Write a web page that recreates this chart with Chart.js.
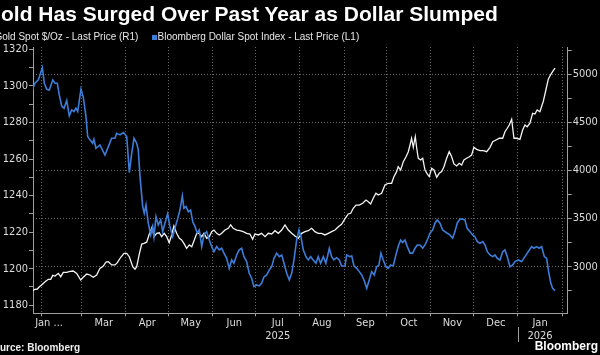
<!DOCTYPE html>
<html><head><meta charset="utf-8">
<script src="https://cdn.jsdelivr.net/npm/chart.js@4.4.1/dist/chart.umd.min.js"></script>
<style>
html,body{margin:0;padding:0;background:#000;}
#wrap{position:relative;width:600px;height:355px;overflow:hidden;background:#000;}
#c{position:absolute;left:0;top:0;}
.t{position:absolute;white-space:nowrap;color:#fff;font-family:"Liberation Sans",Arial,sans-serif;line-height:1;}
#title{left:-15.3px;top:3px;font-weight:bold;font-size:21px;}
.lg{top:32px;font-size:10px;line-height:10px;color:#e6e6e6;}
.sq{position:absolute;top:34.5px;width:5px;height:5px;}
#src{left:-12.8px;top:342.5px;font-size:10px;font-weight:bold;color:#eee;}
#logo{right:2px;top:340px;font-size:12px;font-weight:bold;color:#fff;}
</style></head>
<body>
<div id="wrap">
<canvas id="c" width="600" height="355"></canvas>
<div class="t" id="title">Gold Has Surged Over Past Year as Dollar Slumped</div>
<div class="sq" style="left:-12px;background:#f2f2f2"></div>
<div class="t lg" style="left:-5.5px">Gold Spot $/Oz - Last Price (R1)</div>
<div class="sq" style="left:151.5px;background:#3d7dd8"></div>
<div class="t lg" style="left:157.5px">Bloomberg Dollar Spot Index - Last Price (L1)</div>
<div class="t" id="src">Source: Bloomberg</div>
<div class="t" id="logo">Bloomberg</div>
</div>
<script>
// x values: days since 2025-01-01
const blueDays = [24.4,26.2,28.6,31.4,32.8,34.5,36.3,38.7,40.3,41.9,43.3,45.0,46.6,48.5,50.3,52.0,53.6,55.0,56.2,58.5,60.1,62.0,63.2,64.8,66.7,67.6,69.0,71.8,75.3,77.7,80.0,82.4,83.5,85.9,88.2,90.6,92.4,94.1,95.7,97.6,98.7,99.9,101.8,102.9,104.1,
105.7,107.4,108.8,109.7,111.1,112.7,114.4,115.8,117.4,119.3,120.9,122.8,124.4,126.1,127.9,129.6,130.7,132.2,133.8,135.4,136.9,138.5,140.1,141.5,143.2,144.8,146.7,148.5,150.2,151.8,153.7,155.5,157.2,158.8,160.7,162.5,164.2,165.8,167.7,169.5,171.2,172.8,174.7,176.5,178.2,179.8,181.7,183.6,185.2,186.9,188.8,190.6,192.3,193.9,195.8,197.6,199.3,200.9,202.8,204.6,206.3,207.9,209.8,211.4,212.8,214.4,216.3,217.9,219.6,221.4,223.3,224.9,226.6,228.5,230.3,232.7,234.3,235.9,237.8,239.7,241.3,243.7,244.9,247.2,248.4,250.0,251.9,253.7,255.4,257.0,258.9,260.7,262.4,264.2,265.9,267.5,268.9,270.5,272.4,274.0,275.7,277.5,279.4,281.0,282.7,284.1,285.7,287.4,289.3,291.2,292.8,294.4,296.3,298.2,299.8,301.4,303.3,305.2,306.8,308.4,310.3,312.2,313.8,315.4,317.3,319.2,320.8,322.4,324.3,326.2,327.8,329.4,331.3,333.2,334.8,336.5,338.4,340.3,341.9,343.5,345.4,347.3,348.9,350.5,352.4,354.3,355.9,357.5,359.4,361.3,362.9,365.2,367.6,369.9,372.2,374.6,376.2,378.1,379.9,381.6,383.5,385.1,386.7,388.1,389.3,391.0];
const dollarIndex = [1297.8,1301.5,1303.3,1310,1301.5,1298.2,1297.8,1303.3,1301.5,1301.5,1295,1289,1287.8,1292,1283.6,1286.9,1286,1287.8,1286,1298.2,1294,1283.2,1272.3,1270.5,1268.6,1270.8,1265.9,1267.7,1262.2,1266.8,1271.4,1271.4,1274.1,1273.2,1274.5,1272.3,1252.6,1263.2,1271.4,1268.6,1265,1250.4,1234,1230.3,1234.9,
1224.9,1218.5,1223,1217.5,1228.5,1223.9,1226.7,1220.3,1224.9,1230,1223,1217.5,1222.1,1226.7,1232.1,1239.8,1233.1,1234,1231.2,1232.1,1225.7,1223,1219.4,1221.2,1212.1,1218.5,1220.3,1215.7,1212.1,1209.3,1212.1,1210.3,1211.2,1208.5,1205.7,1200.2,1204.8,1203,1207.5,1210.3,1211.2,1206.6,1203.9,1197.5,1194.8,1190.2,1191.1,1190.6,1192,1195.6,1196.6,1199.3,1201.1,1205.7,1208.5,1206.6,1207.5,1203,1197.5,1193.8,1197.5,1204.8,1215.7,1221.2,1217.5,1210.3,1206.6,1204.8,1206.6,1204.8,1203,1206.6,1203,1206.6,1203,1211.2,1206.6,1204.8,1206,1204.8,1201.5,1201.5,1207.5,1206.6,1207,1201.5,1200.2,1198.4,1196.6,1193.8,1189.3,1193.8,1198.4,1196.6,1201.1,1202,1208.5,1204.8,1201.1,1200.2,1202,1201.5,1207.5,1212.1,1215.7,1214.3,1215.7,1212.1,1208.5,1208.5,1211.2,1213,1213,1211.2,1213,1215.7,1219.4,1221.2,1224.9,1226.7,1224.9,1221.2,1220.3,1219.4,1218.5,1216.7,1220.3,1224.9,1227.1,1227.1,1226.7,1222.1,1220.3,1218.5,1217.5,1214.8,1213.9,1214.8,1213,1209.3,1207.5,1206.6,1207.5,1205.7,1204.8,1209.3,1210.3,1206.6,1201.1,1202,1203.9,1204.8,1203.9,1206.6,1209.3,1212.1,1211.2,1212.1,1211.2,1212.1,1206.6,1205.7,1197.5,1192,1189.3,1188];
const goldDays = [24.4,26.2,27.9,29.3,30.9,33.3,35.6,37.3,38.7,40.3,42.6,44.3,46.1,48.5,50.8,53.1,55.5,58.3,60.1,62.5,64.8,67.1,69.5,71.8,74.2,76.0,77.7,80.0,82.4,84.0,86.4,88.7,90.6,92.4,94.8,96.4,97.6,99.4,101.1,102.7,104.6,106.2,108.5,109.7,111.6,113.4,115.1,116.9,118.6,120.4,122.1,123.7,125.6,127.5,129.1,130.7,132.6,134.5,136.2,138.0,139.7,141.3,143.2,144.8,146.7,148.5,150.2,151.8,153.7,155.5,157.2,159.5,161.8,163.5,165.3,167.7,170.0,172.3,174.7,177.0,178.9,180.5,182.9,185.2,187.6,189.9,192.3,194.6,196.9,199.3,201.6,203.9,206.3,208.6,210.9,213.3,215.6,217.9,220.3,222.6,224.9,227.3,229.6,232.0,234.3,236.7,239.0,241.3,243.7,246.0,247.7,249.5,251.4,253.7,256.1,258.4,260.0,261.7,263.5,265.4,267.0,269.4,271.7,274.0,276.4,278.0,279.9,281.0,282.7,284.6,286.5,288.1,289.3,290.4,291.6,293.0,294.0,295.1,296.8,298.2,299.8,301.4,302.8,304.5,306.1,308.0,309.8,311.5,313.1,315.0,316.8,318.5,320.1,322.0,323.8,325.5,327.1,329.0,330.9,332.5,334.1,336.0,338.4,340.7,343.1,345.4,347.3,349.6,351.9,354.3,355.9,357.5,358.9,360.6,362.2,364.1,366.4,368.3,369.9,371.5,373.4,375.3,376.9,378.5,380.4,382.8,384.6,386.3,387.9,389.3,391.0];
const goldPrice = [2750,2765,2768,2792,2810,2844,2869,2869,2910,2903,2931,2896,2941,2941,2952,2955,2931,2862,2890,2924,2914,2890,2914,2983,3007,3049,3052,3018,3018,3042,3098,3139,3139,3104,3000,2973,3000,3130,3235,3243,3255,3330,3416,3312,3347,3353,3312,3347,3312,3250,3330,3423,3347,3295,3278,3243,3191,3226,3208,3278,3347,3347,3312,3347,3295,3312,3364,3381,3347,3330,3347,3381,3399,3434,3399,3381,3374,3364,3347,3340,3285,3340,3330,3347,3312,3347,3340,3374,3347,3381,3434,3381,3347,3319,3295,3347,3364,3374,3399,3364,3347,3347,3330,3347,3364,3381,3416,3440,3500,3548,3555,3607,3641,3641,3659,3693,3676,3652,3711,3763,3745,3763,3849,3867,3867,3936,3988,4040,4005,4092,4143,4195,4265,4335,4241,4351,4231,4127,4109,4127,4005,3964,3936,4023,4005,3929,3971,3988,4040,4127,4195,4143,4068,4047,4075,4057,4109,4127,4143,4161,4241,4220,4206,4206,4195,4241,4299,4317,4335,4335,4403,4439,4473,4532,4335,4335,4324,4420,4473,4455,4491,4595,4587,4629,4611,4720,4837,4950,4995,5027,5065];

// axis ticks
const monthStarts = [31,59,90,120,151,181,212,243,273,304,334,365,396];
const labelDays = [36.1,74.5,105,135.5,166,196.5,227.5,258,288.5,319,349.5,380.5];
const monthLabels = ['Jan ...','Mar','Apr','May','Jun','Jul','Aug','Sep','Oct','Nov','Dec','Jan'];
const yearLabels = ['','','','','','2025','','','','','','2026'];
const leftTicks = [1180,1190,1200,1210,1220,1230,1240,1250,1260,1270,1280,1290,1300,1310,1320];
const rightTicks = [2750,3000,3250,3500,3750,4000,4250,4500,4750,5000,5250];

const GRID = '#666666', AXIS = '#a0a0a0', TXT = '#dcdcdc', BLUE = '#3d7dd8';
const tickFont = {family:'"DejaVu Sans Condensed","DejaVu Sans",sans-serif', size:11};

const yearSep = {id:'yearSep', afterDraw(chart){
  const c = chart.ctx, x = Math.round(chart.scales.x.getPixelForValue(365)) + 0.5;
  c.save(); c.strokeStyle = AXIS; c.lineWidth = 1;
  c.beginPath(); c.moveTo(x, 327); c.lineTo(x, 342); c.stroke(); c.restore();
}};

new Chart(document.getElementById('c'), {
  type:'line',
  data:{datasets:[
    {label:'Bloomberg Dollar Spot Index', data: blueDays.map((d,i)=>({x:d,y:dollarIndex[i]})), yAxisID:'yL',
     borderColor:BLUE, borderWidth:1.6, pointRadius:0, tension:0},
    {label:'Gold Spot', data: goldDays.map((d,i)=>({x:d,y:goldPrice[i]})), yAxisID:'yR',
     borderColor:'#f4f4f4', borderWidth:1.3, pointRadius:0, tension:0}
  ]},
  options:{
    responsive:false, animation:false, devicePixelRatio:1,
    layout:{padding:{top:47,left:0,right:0,bottom:0}},
    plugins:{legend:{display:false}, tooltip:{enabled:false}, title:{display:false}},
    scales:{
      x:{type:'linear', min:24.85, max:399.9,
        afterBuildTicks(s){ s.ticks = monthStarts.concat(labelDays).sort((a,b)=>a-b).map(v=>({value:v})); },
        afterFit(s){ s.height = 41.7; },
        ticks:{autoSkip:false, maxRotation:0, minRotation:0, color:TXT, font:tickFont, padding:0,
          callback(v){ const i = labelDays.indexOf(v); if(i<0) return ''; return yearLabels[i] ? [monthLabels[i], yearLabels[i]] : monthLabels[i]; }},
        grid:{color:(c)=> c.tick && monthStarts.includes(c.tick.value) ? GRID : 'rgba(0,0,0,0)',
          tickColor:(c)=> c.tick && monthStarts.includes(c.tick.value) ? AXIS : 'rgba(0,0,0,0)',
          tickLength:3, lineWidth:1},
        border:{color:AXIS, width:1, dash:[1,2]}
      },
      yL:{position:'left', min:1175.6, max:1321.3,
        afterBuildTicks(s){ s.ticks = leftTicks.map(v=>({value:v})); },
        afterFit(s){ s.width = 33; },
        ticks:{autoSkip:false, color:TXT, font:tickFont, padding:1, callback:(v)=> v%20===0 ? String(v) : ''},
        grid:{drawOnChartArea:false, tickColor:AXIS, tickLength:4},
        border:{color:AXIS, width:1}
      },
      yR:{position:'right', min:2515.6, max:5283.8,
        afterBuildTicks(s){ s.ticks = rightTicks.map(v=>({value:v})); },
        afterFit(s){ s.width = 32.3; },
        ticks:{autoSkip:false, color:TXT, font:tickFont, padding:1, callback:(v)=> v%500===0 ? String(v) : ''},
        grid:{color:(c)=> c.tick && c.tick.value%500===0 ? GRID : 'rgba(0,0,0,0)', tickColor:AXIS, tickLength:4, lineWidth:1},
        border:{color:AXIS, width:1, dash:[1,2]}
      }
    }
  },
  plugins:[yearSep]
});
</script>
</body></html>
